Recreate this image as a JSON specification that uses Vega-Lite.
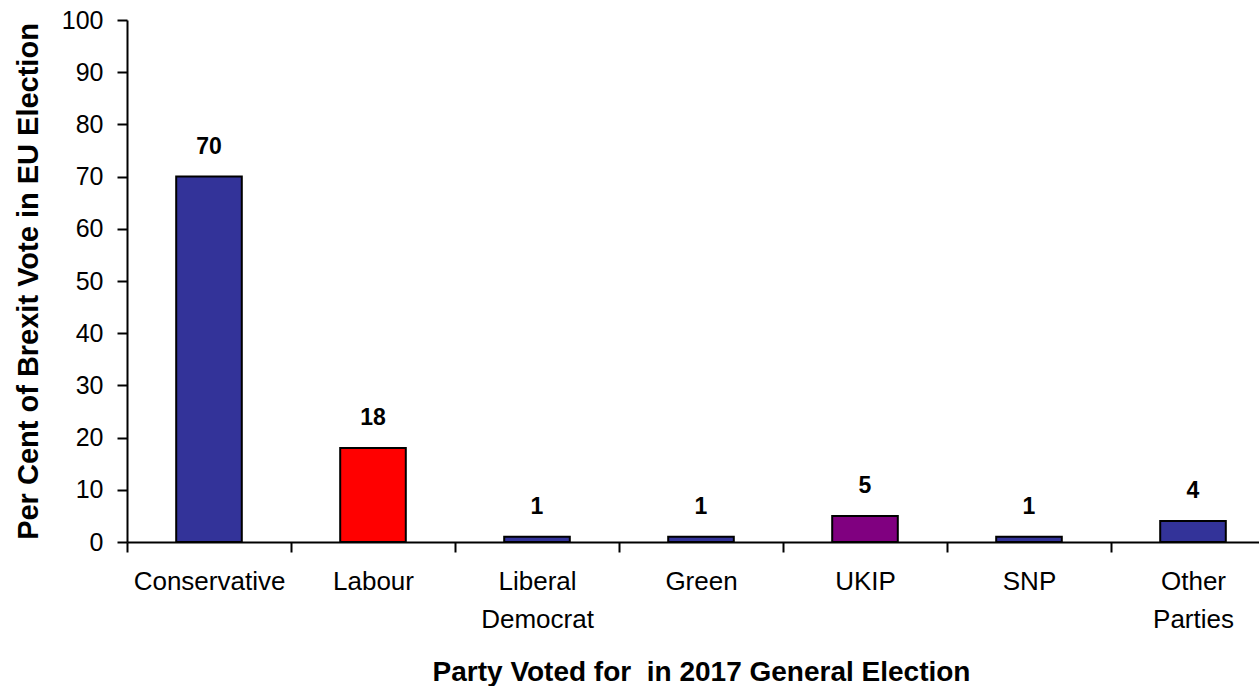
{
  "$schema": "https://vega.github.io/schema/vega-lite/v6.json",
  "width": 1148,
  "height": 522,
  "autosize": {"type": "none"},
  "padding": {"left": 127, "top": 20, "right": 0, "bottom": 144},
  "background": "white",
  "config": {"view": {"stroke": null}, "font": "Liberation Sans"},
  "data": {
    "values": [
      {"party": "Conservative", "pct": 70},
      {"party": "Labour", "pct": 18},
      {"party": "Liberal Democrat", "pct": 1},
      {"party": "Green", "pct": 1},
      {"party": "UKIP", "pct": 5},
      {"party": "SNP", "pct": 1},
      {"party": "Other Parties", "pct": 4}
    ]
  },
  "encoding": {
    "x": {
      "field": "party",
      "type": "nominal",
      "sort": null,
      "scale": {"paddingInner": 0, "paddingOuter": 0},
      "axis": {
        "title": "Party Voted for \u00a0in 2017 General Election",
        "titleFontSize": 28,
        "titleFontWeight": "bold",
        "titleColor": "black",
        "titlePadding": 26,
        "labelAngle": 0,
        "labelFontSize": 26,
        "labelColor": "black",
        "labelPadding": 16,
        "labelLineHeight": 38,
        "labelExpr": "split(datum.label, ' ')",
        "tickBand": "extent",
        "tickSize": 10,
        "tickWidth": 2,
        "tickColor": "black",
        "domainColor": "black",
        "domainWidth": 2,
        "grid": false
      }
    },
    "y": {
      "field": "pct",
      "type": "quantitative",
      "scale": {"domain": [0, 100], "nice": false},
      "axis": {
        "title": "Per Cent of Brexit Vote in EU Election",
        "titleFontSize": 29,
        "titleFontWeight": "bold",
        "titleColor": "black",
        "titlePadding": 18,
        "values": [0, 10, 20, 30, 40, 50, 60, 70, 80, 90, 100],
        "labelFontSize": 25,
        "labelColor": "black",
        "labelPadding": 14,
        "tickSize": 10,
        "tickWidth": 2,
        "tickColor": "black",
        "domainColor": "black",
        "domainWidth": 2,
        "grid": false
      }
    }
  },
  "layer": [
    {
      "mark": {"type": "bar", "width": {"band": 0.4}, "stroke": "black", "strokeWidth": 2},
      "encoding": {
        "color": {
          "field": "party",
          "type": "nominal",
          "scale": {
            "domain": ["Conservative", "Labour", "Liberal Democrat", "Green", "UKIP", "SNP", "Other Parties"],
            "range": ["#333399", "#FF0000", "#333399", "#333399", "#800080", "#333399", "#333399"]
          },
          "legend": null
        }
      }
    },
    {
      "mark": {"type": "text", "baseline": "alphabetic", "dy": -23, "fontSize": 23, "fontWeight": "bold", "color": "black"},
      "encoding": {"text": {"field": "pct", "type": "quantitative"}}
    }
  ]
}
